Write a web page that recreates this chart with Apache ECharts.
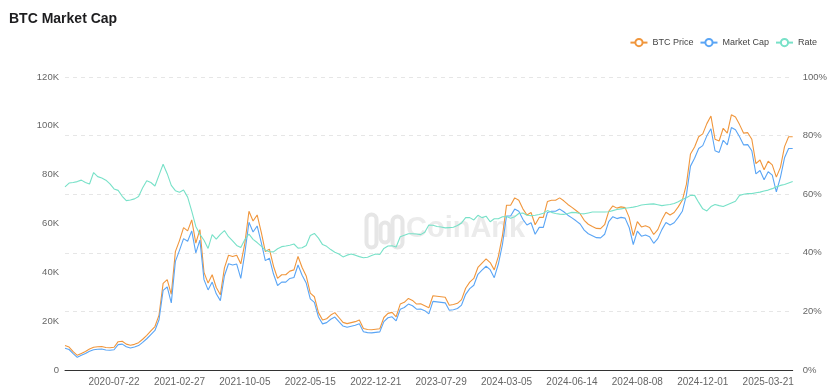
<!DOCTYPE html>
<html>
<head>
<meta charset="utf-8">
<script src="https://cdn.jsdelivr.net/npm/echarts@6/dist/echarts.min.js"></script>
<style>
html,body{margin:0;padding:0;background:#fff;}
#chart{width:830px;height:390px;}
</style>
</head>
<body>
<div id="chart"></div>
<script>
const dates = [
'2020-02-05','2020-02-19','2020-03-04','2020-03-18','2020-04-01','2020-04-15','2020-04-29','2020-05-13','2020-05-27','2020-06-10',
'2020-06-24','2020-07-08','2020-07-22','2020-08-05','2020-08-19','2020-09-02','2020-09-15','2020-09-29','2020-10-13','2020-10-27',
'2020-11-09','2020-11-23','2020-12-07','2020-12-21','2021-01-03','2021-01-17','2021-01-31','2021-02-14','2021-02-27','2021-03-13',
'2021-03-27','2021-04-10','2021-04-23','2021-05-07','2021-05-21','2021-06-04','2021-06-17','2021-07-01','2021-07-15','2021-07-29',
'2021-08-11','2021-08-25','2021-09-08','2021-09-22','2021-10-05','2021-10-19','2021-11-02','2021-11-16','2021-11-30','2021-12-14',
'2021-12-28','2022-01-11','2022-01-25','2022-02-08','2022-02-22','2022-03-08','2022-03-22','2022-04-05','2022-04-19','2022-05-02',
'2022-05-15','2022-05-29','2022-06-12','2022-06-26','2022-07-09','2022-07-23','2022-08-06','2022-08-20','2022-09-02','2022-09-16',
'2022-09-30','2022-10-14','2022-10-27','2022-11-10','2022-11-24','2022-12-08','2022-12-21','2023-01-04','2023-01-18','2023-02-01',
'2023-02-14','2023-02-28','2023-03-14','2023-03-28','2023-04-10','2023-04-24','2023-05-08','2023-05-22','2023-06-04','2023-06-18',
'2023-07-02','2023-07-16','2023-07-29','2023-08-12','2023-08-26','2023-09-09','2023-09-22','2023-10-06','2023-10-20','2023-11-03',
'2023-11-16','2023-11-30','2023-12-14','2023-12-28','2024-01-10','2024-01-24','2024-02-07','2024-02-21','2024-03-05','2024-03-11',
'2024-03-17','2024-03-24','2024-03-30','2024-04-05','2024-04-12','2024-04-18','2024-04-24','2024-05-01','2024-05-07','2024-05-13',
'2024-05-20','2024-05-26','2024-06-01','2024-06-08','2024-06-14','2024-06-17','2024-06-21','2024-06-24','2024-06-28','2024-07-01',
'2024-07-05','2024-07-08','2024-07-12','2024-07-15','2024-07-19','2024-07-22','2024-07-26','2024-07-29','2024-08-02','2024-08-05',
'2024-08-08','2024-08-15','2024-08-22','2024-08-29','2024-09-06','2024-09-13','2024-09-20','2024-09-27','2024-10-04','2024-10-12',
'2024-10-19','2024-10-26','2024-11-02','2024-11-09','2024-11-17','2024-11-24','2024-12-01','2024-12-08','2024-12-15','2024-12-22',
'2024-12-29','2025-01-05','2025-01-12','2025-01-19','2025-01-25','2025-02-01','2025-02-08','2025-02-15','2025-02-22','2025-03-01',
'2025-03-08','2025-03-14','2025-03-21','2025-03-28','2025-04-04','2025-04-11','2025-04-18','2025-04-25','2025-05-02'
];

const tickLabels = ['2020-07-22','2021-02-27','2021-10-05','2022-05-15','2022-12-21','2023-07-29','2024-03-05','2024-06-14','2024-08-08','2024-12-01','2025-03-21'];

// BTC price, thousands USD
const btcPrice = [
10.0, 9.4, 7.5, 6.0, 6.8, 7.6, 8.6, 9.3, 9.5, 9.6,
9.2, 9.1, 9.3, 11.6, 11.8, 10.6, 10.1, 10.5, 11.2, 12.6,
14.2, 16.0, 17.8, 22.5, 35.5, 37.0, 31.0, 48.5, 53.0, 58.3,
57.0, 61.5, 52.0, 57.5, 40.0, 35.6, 39.0, 33.8, 30.8, 41.8,
47.0, 46.5, 47.0, 43.5, 52.0, 65.0, 61.0, 63.5, 56.5, 48.5,
49.5, 42.5, 37.5, 39.0, 39.0, 40.5, 41.0, 46.5, 42.0, 38.5,
31.5, 30.0, 23.5, 20.5, 21.0, 22.5, 23.5, 21.5, 19.5, 19.0,
19.4, 19.8, 20.5, 17.0, 16.6, 16.5, 16.7, 16.9, 21.5, 23.2,
23.6, 21.8, 27.0, 27.7, 29.3, 28.5, 27.0, 27.1, 26.3, 25.5,
30.4, 30.2, 30.0, 29.8, 26.5, 26.8, 27.3, 28.8, 33.5, 36.0,
37.5, 42.0, 43.8, 45.5, 44.0, 41.0, 46.5, 55.0, 67.5, 67.5,
70.5, 69.5, 66.0, 63.5, 64.5, 59.5, 62.5, 62.5, 69.0, 69.5,
69.5, 70.5, 69.3, 67.8, 66.6, 65.3, 64.0, 61.3, 59.7, 58.8,
58.0, 57.9, 59.5, 65.0, 67.2, 66.3, 66.8, 66.5, 62.5, 55.0,
60.8, 58.6, 59.1, 58.4, 55.5, 57.5, 61.5, 64.6, 63.5, 64.5,
66.8, 69.5, 76.0, 88.5, 91.3, 95.5, 96.7, 100.9, 104.0, 94.5,
93.8, 99.0, 97.0, 104.5, 103.6, 100.5, 97.0, 97.2, 94.5, 84.5,
86.0, 82.0, 85.5, 84.0, 79.0, 83.0, 91.5, 95.5, 95.5
];

// Market cap, plotted on the same K scale
const marketCap = [
8.9, 8.4, 6.7, 5.2, 6.0, 6.8, 7.7, 8.3, 8.5, 8.6,
8.2, 8.1, 8.3, 10.4, 10.6, 9.5, 9.0, 9.4, 10.0, 11.3,
12.8, 14.5, 16.2, 20.6, 32.6, 34.0, 27.5, 44.5, 49.0, 53.8,
52.7, 57.0, 48.0, 53.2, 37.0, 32.8, 36.0, 31.2, 28.4, 38.6,
43.5, 43.0, 43.4, 37.5, 48.0, 60.5, 56.5, 59.0, 52.3, 44.8,
45.8, 39.3, 34.6, 36.0, 36.0, 37.5, 37.9, 43.0, 38.8, 35.6,
29.1, 27.7, 21.7, 18.9, 19.4, 20.8, 21.7, 19.8, 18.0, 17.5,
17.9, 18.3, 18.9, 15.7, 15.3, 15.2, 15.4, 15.6, 19.8, 21.4,
21.8, 20.1, 24.9, 25.6, 27.0, 26.3, 24.9, 25.0, 24.3, 23.0,
28.1, 27.9, 27.7, 27.5, 24.5, 24.7, 25.2, 26.6, 31.0, 33.3,
34.7, 39.2, 40.9, 42.5, 41.1, 37.8, 43.4, 51.4, 63.1, 63.1,
65.9, 65.0, 61.7, 59.4, 60.3, 55.6, 58.4, 58.4, 64.5, 65.0,
65.0, 65.9, 64.8, 63.4, 62.3, 61.1, 59.8, 57.3, 55.8, 55.0,
54.2, 54.1, 55.6, 60.8, 62.8, 62.0, 62.5, 62.2, 58.4, 51.4,
56.9, 54.8, 55.3, 54.6, 51.9, 53.8, 57.5, 60.4, 59.4, 60.3,
62.5, 65.0, 71.6, 83.5, 86.7, 90.7, 91.9, 95.9, 98.8, 89.8,
89.1, 94.1, 92.2, 99.3, 98.4, 95.5, 92.2, 92.3, 89.8, 80.3,
81.7, 77.9, 81.2, 79.8, 73.0, 78.9, 86.9, 90.7, 90.7
];

// Rate, percent
const rate = [
62.5, 63.8, 64.0, 64.3, 64.8, 64.0, 63.5, 67.4, 66.0, 65.5,
64.8, 63.5, 61.8, 61.3, 59.3, 57.8, 58.0, 58.4, 59.2, 62.2,
64.6, 64.0, 62.8, 66.5, 70.2, 67.0, 63.0, 61.2, 60.7, 61.4,
59.0, 54.2, 49.0, 46.3, 44.3, 41.5, 46.2, 44.7, 46.3, 47.6,
45.5, 44.1, 42.5, 41.8, 44.5, 46.4, 44.6, 43.5, 42.3, 40.9,
40.4, 40.3, 41.4, 42.1, 42.3, 42.6, 43.0, 41.6, 41.7, 42.5,
45.9, 46.6, 45.0, 42.8, 42.2, 41.1, 40.2, 39.6, 38.6, 39.2,
39.6, 39.2, 38.7, 38.3, 38.5, 39.1, 39.6, 39.4, 41.5, 42.3,
42.4, 42.0, 45.5, 46.0, 46.5, 46.5, 46.4, 46.2, 47.0, 49.5,
49.4, 49.0, 48.8, 48.5, 48.6, 48.7, 49.3, 50.2, 52.0, 52.0,
51.2, 52.8, 52.0, 52.5, 50.6, 51.6, 51.6, 52.3, 52.4, 51.8,
52.3, 53.4, 53.6, 52.8, 52.7, 52.8, 53.1, 53.5, 54.4, 53.8,
53.4, 53.2, 53.1, 53.4, 53.8, 53.7, 53.4, 53.3, 53.6, 53.9,
53.9, 53.9, 53.9, 54.0, 54.4, 54.8, 55.0, 55.2, 55.4, 55.6,
55.9, 56.3, 56.5, 56.6, 56.7, 56.4, 56.1, 56.3, 56.5, 56.8,
57.4, 58.2, 58.8, 59.6, 59.6, 57.2, 55.0, 54.3, 55.8, 56.5,
56.1, 55.8, 56.4, 57.0, 57.6, 59.6, 60.0, 60.2, 60.2, 60.5,
60.7, 61.1, 61.4, 61.9, 62.5, 63.0, 63.3, 63.8, 64.3
];

const leftTicks = {min: 0, max: 120, interval: 20};
const rightTicks = {min: 0, max: 100, interval: 20};

const FONT = '"Liberation Sans", Arial, Helvetica, sans-serif';
const chart = echarts.init(document.getElementById('chart'), null, {renderer: 'canvas'});

chart.setOption({
  animation: false,
  backgroundColor: '#ffffff',
  textStyle: {fontFamily: FONT},
  title: {
    text: 'BTC Market Cap',
    left: 4, top: 7,
    textStyle: {fontSize: 14, fontWeight: 'bold', color: '#1d1d1f', fontFamily: FONT}
  },
  legend: {
    right: 8, top: 33,
    itemWidth: 17, itemHeight: 9, itemGap: 6,
    textStyle: {fontSize: 9, color: '#444', fontFamily: FONT},
    data: ['BTC Price', 'Market Cap', 'Rate']
  },
  grid: {left: 65, right: 33, top: 77, bottom: 20, containLabel: false},
  graphic: [
    {type: 'rect', left: 364, top: 212, shape: {width: 10, height: 33, r: 5}, style: {fill: 'none', stroke: '#e6e6e6', lineWidth: 4}, z: 0},
    {type: 'rect', left: 378, top: 220, shape: {width: 9, height: 20, r: 4.5}, style: {fill: 'none', stroke: '#e6e6e6', lineWidth: 4}, z: 0},
    {type: 'rect', left: 390, top: 214, shape: {width: 10, height: 31, r: 5}, style: {fill: 'none', stroke: '#e6e6e6', lineWidth: 4}, z: 0},
    {type: 'text', left: 406, top: 214, style: {text: 'CoinAnk', fontSize: 29, fontWeight: 'bold', fill: '#ebebeb', fontFamily: FONT}, z: 0}
  ],
  xAxis: {
    type: 'category',
    data: dates,
    boundaryGap: false,
    axisLine: {lineStyle: {color: '#333', width: 1}},
    axisTick: {show: false},
    axisLabel: {
      color: '#666', fontSize: 10, margin: 7, fontFamily: FONT,
      interval: (idx, value) => tickLabels.includes(value)
    },
    splitLine: {show: false}
  },
  yAxis: [
    {
      type: 'value', position: 'left',
      min: leftTicks.min, max: leftTicks.max, interval: leftTicks.interval,
      axisLine: {show: false}, axisTick: {show: false},
      splitLine: {show: false},
      axisLabel: {color: '#666', fontSize: 9.5, margin: 6, fontFamily: FONT,
        formatter: v => v === 0 ? '0' : v + 'K'}
    },
    {
      type: 'value', position: 'right',
      min: rightTicks.min, max: rightTicks.max, interval: rightTicks.interval,
      axisLine: {show: false}, axisTick: {show: false},
      splitLine: {show: true, lineStyle: {color: '#e6e6e6', type: [4, 4], width: 1}},
      axisLabel: {color: '#666', fontSize: 9.5, margin: 10, fontFamily: FONT,
        formatter: '{value}%'}
    }
  ],
  series: [
    {name: 'BTC Price', type: 'line', yAxisIndex: 0, data: btcPrice, showSymbol: false, symbol: 'emptyCircle', symbolSize: 6,
      lineStyle: {width: 1.1, color: '#f0963c'}, itemStyle: {color: '#f0963c'}, z: 3},
    {name: 'Market Cap', type: 'line', yAxisIndex: 0, data: marketCap, showSymbol: false, symbol: 'emptyCircle', symbolSize: 6,
      lineStyle: {width: 1.1, color: '#5aa5f5'}, itemStyle: {color: '#5aa5f5'}, z: 3},
    {name: 'Rate', type: 'line', yAxisIndex: 1, data: rate, showSymbol: false, symbol: 'emptyCircle', symbolSize: 6,
      lineStyle: {width: 1.1, color: '#78e1c8'}, itemStyle: {color: '#78e1c8'}, z: 3}
  ]
});
</script>
</body>
</html>
